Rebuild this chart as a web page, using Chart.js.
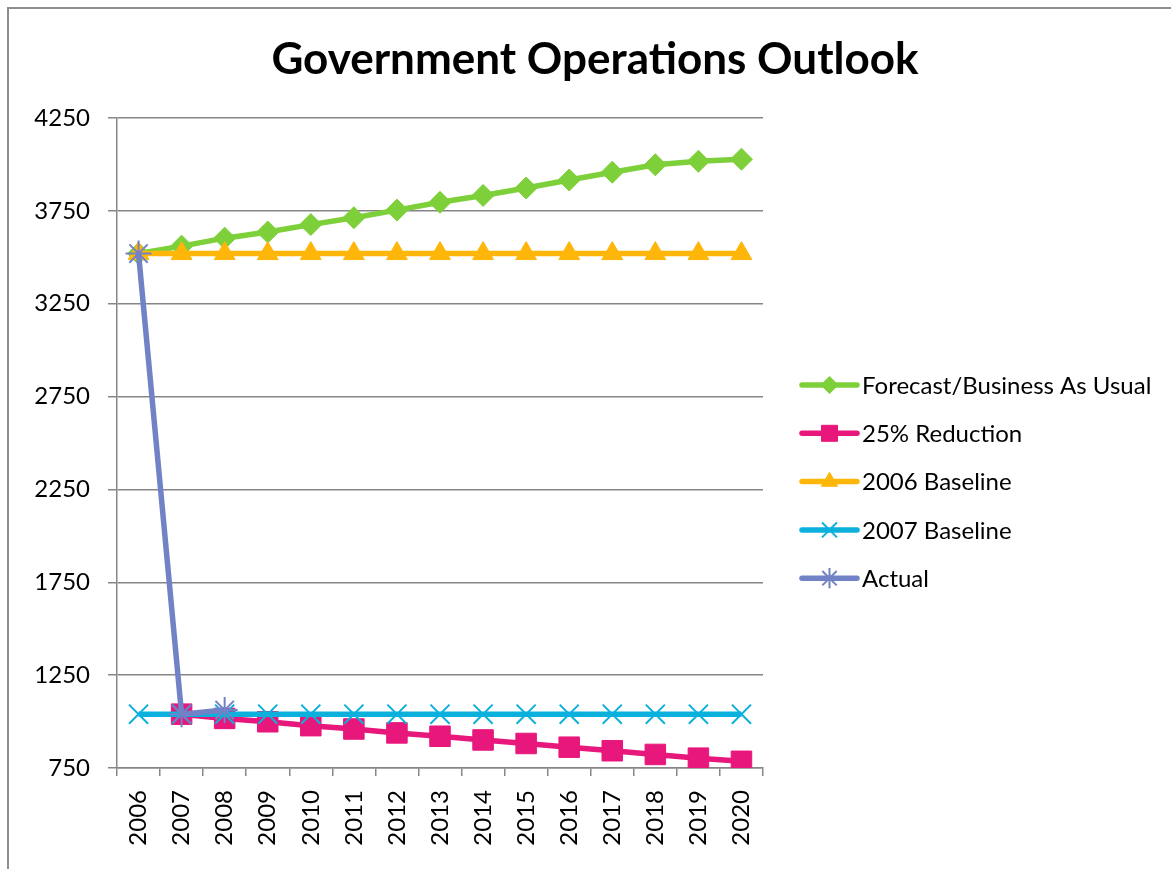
<!DOCTYPE html>
<html>
<head>
<meta charset="utf-8">
<title>Government Operations Outlook</title>
<script src="https://cdn.jsdelivr.net/npm/chart.js@4.4.1/dist/chart.umd.min.js"></script>
<style>
  html, body { margin: 0; padding: 0; background: #fff; }
  #outlookChart { display: block; }
</style>
</head>
<body>
<canvas id="outlookChart" width="1171" height="869"></canvas>
<script>
// ===== Data =====
const years = ['2006', '2007', '2008', '2009', '2010', '2011', '2012', '2013', '2014', '2015', '2016', '2017', '2018', '2019', '2020'];
const forecastBAU = [3520, 3560, 3603, 3636, 3676, 3713, 3754, 3796, 3833, 3873, 3916, 3958, 3998, 4017, 4028];
const reduction25 = [null, 1040, 1017, 999, 978, 960, 939, 921, 901, 882, 862, 843, 823, 803, 786];
const baseline2006 = [3520, 3520, 3520, 3520, 3520, 3520, 3520, 3520, 3520, 3520, 3520, 3520, 3520, 3520, 3520];
const baseline2007 = [1040, 1040, 1040, 1040, 1040, 1040, 1040, 1040, 1040, 1040, 1040, 1040, 1040, 1040, 1040];
const actual = [3520, 1040, 1062, null, null, null, null, null, null, null, null, null, null, null, null];
const yTicks = [750, 1250, 1750, 2250, 2750, 3250, 3750, 4250];

// ===== Colors =====
const colors = {
  green: '#7ED03A',
  pink: '#E8177B',
  orange: '#FFB60A',
  cyan: '#0BB0DD',
  actual: '#7282C6',
  grid: '#868686',
  text: '#000000',
};

const FONT = "Lato, 'Open Sans', sans-serif";

function series(label, data, color, style, radius, border, order) {
  return {
    label,
    data,
    order,
    borderColor: color,
    backgroundColor: color,
    borderWidth: 5.5,
    pointStyle: style,
    pointRadius: radius,
    pointBackgroundColor: color,
    pointBorderColor: color,
    pointBorderWidth: border,
    spanGaps: false,
    tension: 0,
  };
}

// ===== Title, outer frame and legend =====
const decorations = {
  id: 'decorations',
  beforeDraw(chart) {
    const ctx = chart.ctx;
    ctx.save();
    ctx.fillStyle = '#fff';
    ctx.fillRect(0, 0, chart.width, chart.height);
    ctx.strokeStyle = '#8e8e8e';
    ctx.lineWidth = 2;
    ctx.beginPath();
    ctx.moveTo(8, chart.height);
    ctx.lineTo(8, 8);
    ctx.lineTo(chart.width, 8);
    ctx.stroke();
    ctx.restore();
  },
  afterDraw(chart) {
    const ctx = chart.ctx;
    ctx.save();
    ctx.fillStyle = colors.text;
    ctx.font = 'bold 44px ' + FONT;
    ctx.textAlign = 'center';
    ctx.textBaseline = 'alphabetic';
    ctx.fillText('Government Operations Outlook', 595, 74);

    // legend rows
    const x0 = 802, x1 = 857, rowY = 385, rowGap = 48.3;
    ctx.font = '24px ' + FONT;
    ctx.textAlign = 'left';
    ctx.textBaseline = 'middle';
    chart.data.datasets.forEach((ds, i) => {
      const y = rowY + i * rowGap;
      ctx.strokeStyle = ds.borderColor;
      ctx.lineWidth = 5.5;
      ctx.lineCap = 'round';
      ctx.beginPath();
      ctx.moveTo(x0, y);
      ctx.lineTo(x1, y);
      ctx.stroke();
      ctx.lineCap = 'butt';
      ctx.fillStyle = ds.pointBackgroundColor;
      ctx.strokeStyle = ds.pointBorderColor;
      ctx.lineWidth = ds.pointBorderWidth;
      Chart.helpers.drawPoint(ctx, {
        pointStyle: ds.pointStyle,
        radius: ds.pointRadius * 0.78,
        borderWidth: ds.pointBorderWidth,
        rotation: 0,
      }, (x0 + x1) / 2, y);
      ctx.fillStyle = colors.text;
      ctx.fillText(ds.label, 862, y + 1);
    });
    ctx.restore();
  }
};

new Chart(document.getElementById('outlookChart'), {
  type: 'line',
  data: {
    labels: years,
    datasets: [
      series('Forecast/Business As Usual', forecastBAU, colors.green, 'rectRot', 11, 1, 5),
      series('25% Reduction', reduction25, colors.pink, 'rect', 14.5, 1, 4),
      series('2006 Baseline', baseline2006, colors.orange, 'triangle', 12, 1, 3),
      series('2007 Baseline', baseline2007, colors.cyan, 'crossRot', 13.5, 2, 2),
      series('Actual', actual, colors.actual, 'star', 13, 2, 1),
    ]
  },
  options: {
    responsive: false,
    animation: false,
    layout: { padding: { top: 118, right: 408, left: 0, bottom: 0 } },
    plugins: {
      legend: { display: false },
      title: { display: false },
      tooltip: { enabled: false },
    },
    scales: {
      x: {
        type: 'category',
        offset: true,
        afterFit: (scale) => { scale.height = 101; },
        grid: {
          offset: true,
          drawOnChartArea: false,
          drawTicks: true,
          tickLength: 8,
          color: colors.grid,
          lineWidth: 1.5,
        },
        border: { display: true, color: colors.grid, width: 1.5 },
        ticks: {
          color: colors.text,
          font: { family: FONT, size: 24 },
          minRotation: 90,
          maxRotation: 90,
          autoSkip: false,
          padding: 14,
        }
      },
      y: {
        type: 'linear',
        min: yTicks[0],
        max: yTicks[yTicks.length - 1],
        afterFit: (scale) => { scale.width = 117; },
        afterBuildTicks: (scale) => { scale.ticks = yTicks.map(v => ({ value: v })); },
        grid: {
          color: colors.grid,
          lineWidth: 1.5,
          tickLength: 9,
        },
        border: { display: true, color: colors.grid, width: 1.5 },
        ticks: {
          color: colors.text,
          font: { family: FONT, size: 24 },
          padding: 18,
          callback: (v) => String(v),
        }
      }
    }
  },
  plugins: [decorations]
});
</script>
</body>
</html>
